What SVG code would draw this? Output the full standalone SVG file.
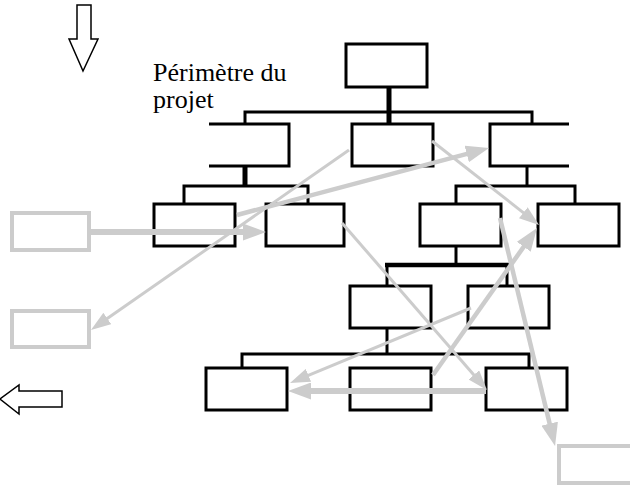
<svg xmlns="http://www.w3.org/2000/svg" width="630" height="488" viewBox="0 0 630 488">
<style>
.box{fill:#fff;stroke:#000;stroke-width:3}
.gbox{fill:none;stroke:#ccc;stroke-width:4}
.ln{fill:none;stroke:#000;stroke-width:3}
.lnb{fill:none;stroke:#000;stroke-width:5}
.thick{stroke:#ccc;stroke-width:6;fill:none;marker-end:url(#hBig)}
.mid{stroke:#ccc;stroke-width:4.5;fill:none;marker-end:url(#hBig)}
.thin{stroke:#ccc;stroke-width:3;fill:none;marker-end:url(#hSmall)}
.hollow{fill:#fff;stroke:#000;stroke-width:1.5;stroke-linejoin:miter}
.lbl{font-family:"Liberation Serif","Times New Roman",serif;font-size:26px;fill:#000}
</style>
<defs>
<marker id="hBig" markerUnits="userSpaceOnUse" markerWidth="23" markerHeight="17" refX="10" refY="8.5" orient="auto"><path d="M0,0 L23,8.5 L0,17 z" fill="#ccc"/></marker>
<marker id="hSmall" markerUnits="userSpaceOnUse" markerWidth="20" markerHeight="14" refX="8" refY="7" orient="auto"><path d="M0,0 L20,7 L0,14 z" fill="#ccc"/></marker>
</defs>
<rect width="630" height="488" fill="#fff"/>

<g id="big-arrows">
<polygon class="hollow" points="77,5 91,5 91,39 98,39 83,71 69,39 77,39"/>
<polygon class="hollow" points="62,391 19,391 19,385 0,399 19,414 19,407 62,407"/>
</g>

<g id="label">
<text class="lbl" x="153" y="81">Périmètre du</text>
<text class="lbl" x="153" y="108">projet</text>
</g>

<g id="tree-links">
<line class="lnb" x1="389" y1="87" x2="389" y2="124"/>
<path class="ln" d="M245,124 V112 H532 V124"/>
<line class="lnb" x1="245" y1="166" x2="245" y2="186"/>
<path class="ln" d="M184,204 V186 H308 V204"/>
<line class="ln" x1="527" y1="166" x2="527" y2="186"/>
<path class="ln" d="M456,204 V186 H575 V204"/>
<line class="ln" x1="456" y1="246" x2="456" y2="265"/>
<line class="ln" x1="387" y1="265" x2="387" y2="286"/>
<line class="ln" x1="507" y1="265" x2="507" y2="286"/>
<line class="lnb" x1="385" y1="265" x2="509" y2="265" style="stroke-width:4.5"/>
<line class="ln" x1="387" y1="328" x2="387" y2="354"/>
<path class="ln" d="M242,368 V354 H529 V368"/>
</g>

<g id="node-top"><rect class="box" x="346" y="44" width="81" height="43"/></g>
<g id="node-l2-left"><path class="ln" d="M209,124 H289 V166 H209"/></g>
<g id="node-l2-mid"><rect class="box" x="352" y="124" width="81" height="42"/></g>
<g id="node-l2-right"><path class="ln" d="M569,124 H490 V166 H569"/></g>
<g id="node-b1"><rect class="box" x="154" y="204" width="81" height="42"/></g>
<g id="node-b2"><rect class="box" x="266" y="204" width="78" height="42"/></g>
<g id="node-b3"><rect class="box" x="420" y="204" width="81" height="42"/></g>
<g id="node-b4"><rect class="box" x="538" y="204" width="81" height="42"/></g>
<g id="node-b5"><rect class="box" x="350" y="286" width="81" height="42"/></g>
<g id="node-b6"><rect class="box" x="468" y="286" width="81" height="42"/></g>
<g id="node-b7"><rect class="box" x="206" y="368" width="81" height="42"/></g>
<g id="node-b8"><rect class="box" x="350" y="368" width="81" height="42"/></g>
<g id="node-b9"><rect class="box" x="486" y="368" width="81" height="42"/></g>
<g id="node-g1"><rect class="gbox" x="12" y="213" width="77" height="37"/></g>
<g id="node-g2"><rect class="gbox" x="12" y="311" width="77" height="36"/></g>
<g id="node-g3"><rect class="gbox" x="559" y="446" width="80" height="37"/></g>

<g id="flow-arrows">
<line class="thick" x1="90" y1="232" x2="253" y2="232"/>
<line class="mid" x1="237" y1="215" x2="476.4" y2="151.4"/>
<line class="thin" x1="349" y1="150" x2="100.8" y2="323.1"/>
<line class="thin" x1="432" y1="141" x2="529.6" y2="217.6"/>
<line class="thin" x1="342" y1="223" x2="479.1" y2="380.9"/>
<line class="thick" x1="486" y1="391" x2="301" y2="391"/>
<line class="thin" x1="471" y1="308" x2="301.1" y2="378.4"/>
<line class="mid" x1="433" y1="375" x2="529.5" y2="238.6"/>
<line class="mid" x1="500" y1="218" x2="552" y2="433.4"/>
</g>
</svg>
